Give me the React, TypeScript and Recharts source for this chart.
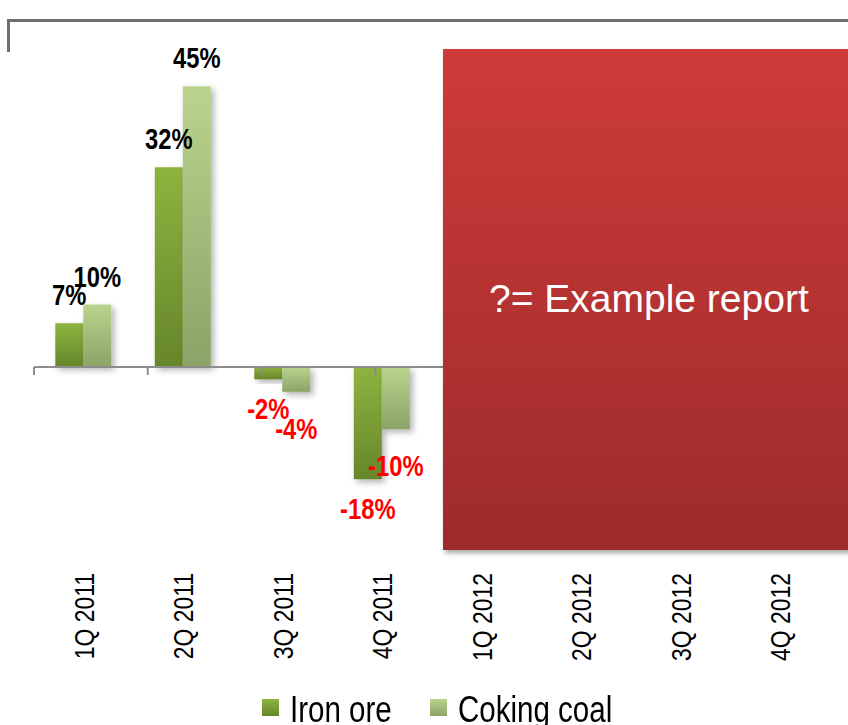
import { BarChart, Bar, XAxis, YAxis, ReferenceLine, LabelList, Legend, Rectangle } from 'recharts';

const quarters = ['1Q 2011', '2Q 2011', '3Q 2011', '4Q 2011', '1Q 2012', '2Q 2012', '3Q 2012', '4Q 2012'];
const ironOre = [7, 32, -2, -18, null, null, null, null];
const cokingCoal = [10, 45, -4, -10, null, null, null, null];
const seriesNames = ['Iron ore', 'Coking coal'];
const tickBounds = [0, 1, 2, 3, 4, 5, 6, 7, 8];

const data = quarters.map((q, i) => ({ quarter: q, iron: ironOre[i], coal: cokingCoal[i] }));

// no Arial Narrow here, so squeeze Liberation Sans instead
const SANS = "'Liberation Sans', Arial, sans-serif";
const NARROW = 0.82;

const GRADS = [
  { id: 'ironGrad', top: '#8DB43F', bottom: '#66862A' },
  { id: 'coalGrad', top: '#BAD48E', bottom: '#8BA366' },
];

function QuarterTick(props: any) {
  const { x, y, payload } = props;
  const ty = y + 19;
  return (
    <g transform={`translate(${x}, ${ty}) rotate(-90) scale(${NARROW}, 1)`}>
      <text x={0} y={0} textAnchor="end" dy="0.36em" fontFamily={SANS} fontSize={28} fill="#000">
        {payload.value}
      </text>
    </g>
  );
}

// negative labels sit further below the bar end for coking coal
const makeLabel = (negGap: number) => (props: any) => {
  const { x, y, width, height, value } = props;
  if (value === null || value === undefined) return null;
  const top = Math.min(y, y + height);
  const bottom = Math.max(y, y + height);
  const neg = value < 0;
  const ly = neg ? bottom + negGap : top - 18;
  return (
    <g transform={`translate(${x + width / 2}, ${ly}) scale(${NARROW}, 1)`}>
      <text x={0} y={0} textAnchor="middle" fontFamily={SANS} fontWeight="bold" fontSize={29} fill={neg ? '#FF0000' : '#000'}>
        {`${value}%`}
      </text>
    </g>
  );
};

const legendSpots = [262, 430];

function LegendContent() {
  return (
    <div style={{ position: 'relative', height: 35, fontFamily: SANS, fontSize: 36, lineHeight: '35px', color: '#000' }}>
      {seriesNames.map((name, i) => (
        <div key={name}>
          <span
            style={{
              position: 'absolute',
              left: legendSpots[i],
              top: 9,
              width: 17,
              height: 17,
              background: `linear-gradient(${GRADS[i].top}, ${GRADS[i].bottom})`,
            }}
          />
          <span
            style={{
              position: 'absolute',
              left: legendSpots[i] + 28,
              top: 2,
              whiteSpace: 'nowrap',
              transform: `scaleX(${NARROW})`,
              transformOrigin: 'left',
            }}
          >
            {name}
          </span>
        </div>
      ))}
    </div>
  );
}

const shadowBar = (fill: string) => (props: any) => (
  <Rectangle {...props} fill={fill} filter="url(#barShadow)" />
);

export default function App() {
  return (
    <div style={{ position: 'absolute', left: 0, top: 0, width: 848, height: 725, background: '#fff', overflow: 'hidden' }}>
      <div
        style={{
          position: 'absolute',
          left: 7,
          top: 19,
          width: 845,
          height: 33,
          borderTop: '3px solid #6f6f6f',
          borderLeft: '3px solid #6f6f6f',
          boxSizing: 'border-box',
        }}
      />
      <BarChart
        width={848}
        height={725}
        data={data}
        margin={{ top: 55, right: 18, bottom: 51, left: 34 }}
        barCategoryGap="21.4%"
        barGap={0}
      >
        <defs>
          {GRADS.map((g) => (
            <linearGradient key={g.id} id={g.id} x1="0" y1="0" x2="0" y2="1">
              <stop offset="0%" stopColor={g.top} />
              <stop offset="100%" stopColor={g.bottom} />
            </linearGradient>
          ))}
          <filter id="barShadow" x="-20%" y="-20%" width="150%" height="150%">
            <feDropShadow dx="3" dy="3" stdDeviation="3" floodColor="#000" floodOpacity="0.3" />
          </filter>
        </defs>
        <XAxis
          xAxisId="cat"
          dataKey="quarter"
          axisLine={false}
          tickLine={false}
          tickSize={0}
          tickMargin={0}
          interval={0}
          height={120}
          tick={<QuarterTick />}
        />
        <XAxis xAxisId="num" type="number" domain={[0, 8]} hide />
        <YAxis domain={[-30, 50]} allowDataOverflow hide />
        <ReferenceLine xAxisId="num" y={0} stroke="#8c8c8c" strokeWidth={2} />
        {tickBounds.map((b) => (
          <ReferenceLine
            key={b}
            xAxisId="num"
            segment={[{ x: b, y: 0 }, { x: b, y: -1.3 }]}
            stroke="#8c8c8c"
            strokeWidth={2}
          />
        ))}
        <Bar xAxisId="cat" dataKey="iron" name={seriesNames[0]} fill="url(#ironGrad)" isAnimationActive={false} shape={shadowBar('url(#ironGrad)')}>
          <LabelList dataKey="iron" content={makeLabel(40)} />
        </Bar>
        <Bar xAxisId="cat" dataKey="coal" name={seriesNames[1]} fill="url(#coalGrad)" isAnimationActive={false} shape={shadowBar('url(#coalGrad)')}>
          <LabelList dataKey="coal" content={makeLabel(47)} />
        </Bar>
        <Legend
          verticalAlign="middle"
          align="center"
          layout="horizontal"
          content={<LegendContent />}
          wrapperStyle={{ top: 690, left: 0, width: 848 }}
        />
      </BarChart>
      <div
        style={{
          position: 'absolute',
          left: 443,
          top: 49,
          width: 420,
          height: 501,
          background: 'linear-gradient(#CE3B39, #9C2B2B)',
          boxShadow: '2px 3px 5px rgba(0,0,0,0.35)',
          color: '#fff',
          fontFamily: SANS,
          fontSize: 39,
          display: 'flex',
          alignItems: 'center',
          paddingLeft: 46,
          boxSizing: 'border-box',
        }}
      >
        <span style={{ marginTop: -2 }}>?= Example report</span>
      </div>
    </div>
  );
}
